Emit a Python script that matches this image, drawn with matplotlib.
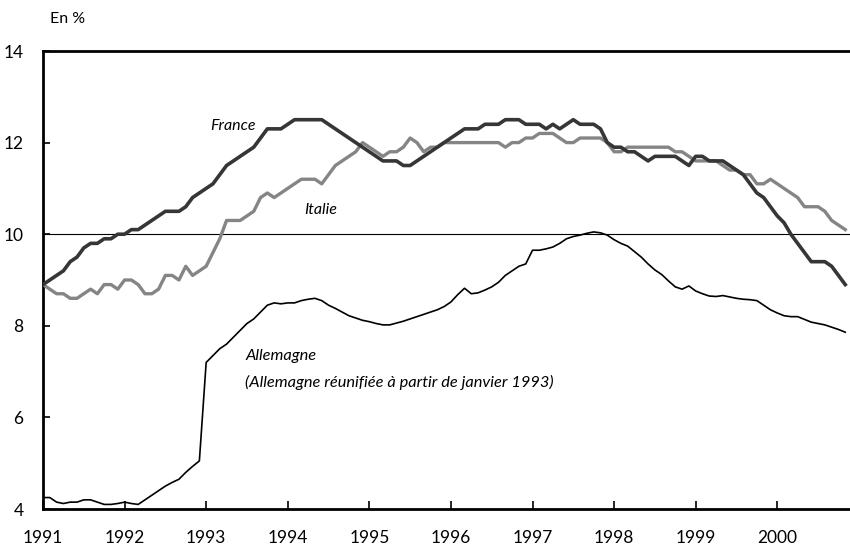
import numpy as np
import matplotlib
matplotlib.use("Agg")
import matplotlib.pyplot as plt

plt.rcParams['font.family'] = ['Lato', 'DejaVu Sans']

# taux de chomage mensuels, janvier 1991 -> novembre 2000
france = [
    8.9, 9.0, 9.1, 9.2, 9.4, 9.5, 9.7, 9.8, 9.8, 9.9, 9.9, 10.0,
    10.0, 10.1, 10.1, 10.2, 10.3, 10.4, 10.5, 10.5, 10.5, 10.6, 10.8, 10.9,
    11.0, 11.1, 11.3, 11.5, 11.6, 11.7, 11.8, 11.9, 12.1, 12.3, 12.3, 12.3,
    12.4, 12.5, 12.5, 12.5, 12.5, 12.5, 12.4, 12.3, 12.2, 12.1, 12.0, 11.9,
    11.8, 11.7, 11.6, 11.6, 11.6, 11.5, 11.5, 11.6, 11.7, 11.8, 11.9, 12.0,
    12.1, 12.2, 12.3, 12.3, 12.3, 12.4, 12.4, 12.4, 12.5, 12.5, 12.5, 12.4,
    12.4, 12.4, 12.3, 12.4, 12.3, 12.4, 12.5, 12.4, 12.4, 12.4, 12.3, 12.0,
    11.9, 11.9, 11.8, 11.8, 11.7, 11.6, 11.7, 11.7, 11.7, 11.7, 11.6, 11.5,
    11.7, 11.7, 11.6, 11.6, 11.6, 11.5, 11.4, 11.3, 11.1, 10.9, 10.8, 10.6,
    10.4, 10.25, 10.0, 9.8, 9.6, 9.4, 9.4, 9.4, 9.3, 9.1, 8.9,
]
italie = [
    8.9, 8.8, 8.7, 8.7, 8.6, 8.6, 8.7, 8.8, 8.7, 8.9, 8.9, 8.8,
    9.0, 9.0, 8.9, 8.7, 8.7, 8.8, 9.1, 9.1, 9.0, 9.3, 9.1, 9.2,
    9.3, 9.6, 9.9, 10.3, 10.3, 10.3, 10.4, 10.5, 10.8, 10.9, 10.8, 10.9,
    11.0, 11.1, 11.2, 11.2, 11.2, 11.1, 11.3, 11.5, 11.6, 11.7, 11.8, 12.0,
    11.9, 11.8, 11.7, 11.8, 11.8, 11.9, 12.1, 12.0, 11.8, 11.9, 11.9, 12.0,
    12.0, 12.0, 12.0, 12.0, 12.0, 12.0, 12.0, 12.0, 11.9, 12.0, 12.0, 12.1,
    12.1, 12.2, 12.2, 12.2, 12.1, 12.0, 12.0, 12.1, 12.1, 12.1, 12.1, 12.0,
    11.8, 11.8, 11.9, 11.9, 11.9, 11.9, 11.9, 11.9, 11.9, 11.8, 11.8, 11.7,
    11.6, 11.6, 11.6, 11.6, 11.5, 11.4, 11.4, 11.3, 11.3, 11.1, 11.1, 11.2,
    11.1, 11.0, 10.9, 10.8, 10.6, 10.6, 10.6, 10.5, 10.3, 10.2, 10.1,
]
allemagne = [
    4.25, 4.25, 4.15, 4.12, 4.15, 4.15, 4.2, 4.2, 4.15, 4.1, 4.1, 4.12,
    4.15, 4.12, 4.1, 4.2, 4.3, 4.4, 4.5, 4.58, 4.65, 4.8, 4.93, 5.05,
    7.2, 7.35, 7.5, 7.6, 7.75, 7.9, 8.05, 8.15, 8.3, 8.45, 8.5, 8.48,
    8.5, 8.5, 8.55, 8.58, 8.6, 8.55, 8.45, 8.38, 8.3, 8.22, 8.17, 8.12,
    8.09, 8.05, 8.02, 8.02, 8.06, 8.1, 8.15, 8.2, 8.25, 8.3, 8.35, 8.42,
    8.52, 8.68, 8.82, 8.7, 8.72, 8.78, 8.85, 8.95, 9.1, 9.2, 9.3, 9.35,
    9.65, 9.65, 9.68, 9.72, 9.8, 9.9, 9.95, 9.98, 10.02, 10.05, 10.03, 9.98,
    9.88, 9.8, 9.74, 9.62, 9.5, 9.35, 9.22, 9.12, 8.98, 8.85, 8.8, 8.87,
    8.76, 8.7, 8.65, 8.64, 8.66, 8.63, 8.6, 8.58, 8.57, 8.55, 8.45, 8.35,
    8.28, 8.22, 8.2, 8.2, 8.14, 8.08, 8.05, 8.02, 7.97, 7.92, 7.86,
]
years = list(range(1991, 2001))
yticks = [4, 6, 8, 10, 12, 14]

dates = 1991 + np.arange(len(france)) / 12.0

fig = plt.figure(figsize=(8.5, 5.52), dpi=100)
ax = fig.add_axes([43 / 850, 43 / 552, 807 / 850, 458 / 552])

ax.axhline(10, color='black', lw=0.8, zorder=1)
ax.plot(dates, allemagne, color='black', lw=1.2, zorder=2)
ax.plot(dates, italie, color='#858585', lw=2.4, zorder=3)
ax.plot(dates, france, color='#363636', lw=2.6, zorder=4)

ax.set_xlim(1991, 1991 + 118.7 / 12)
ax.set_ylim(4, 14)
ax.set_xticks(years)
ax.set_xticklabels([str(y) for y in years])
ax.set_yticks(yticks)
ax.set_yticklabels([str(t) for t in yticks])

ax.spines['right'].set_visible(False)
for s in ['left', 'bottom', 'top']:
    ax.spines[s].set_linewidth(2.0)
ax.tick_params(axis='x', direction='in', length=6, width=1.2, labelsize=12.5, pad=15)
ax.tick_params(axis='y', direction='in', length=5, width=1.2, labelsize=12.5, pad=14)

ax.text(1993.05, 12.28, 'France', style='italic', fontsize=11.5)
ax.text(1994.2, 10.45, 'Italie', style='italic', fontsize=11.5)
ax.text(1993.48, 7.25, 'Allemagne', style='italic', fontsize=11.8)
ax.text(1993.48, 6.66, '(Allemagne réunifiée à partir de janvier 1993)', style='italic', fontsize=11.8)

fig.text(50 / 850, 1 - 19 / 552, 'En %', fontsize=11.5, va='center')

fig.savefig('out.png', dpi=100)
